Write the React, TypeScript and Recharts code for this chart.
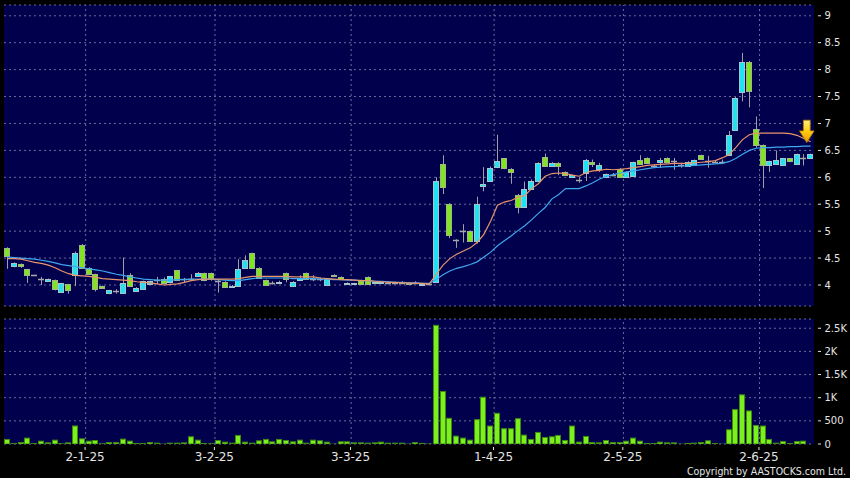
import React from "react";
import {
  ComposedChart,
  Bar,
  Line,
  XAxis,
  YAxis,
  CartesianGrid,
  ReferenceLine,
  ReferenceDot,
} from "recharts";

// ---- data ----
const opens = [
  4.68, 4.35, 4.39, 4.29, 4.18, 4.11, 4.07, 4.09, 3.86, 4.01,
  4.18, 4.74, 4.32, 4.2, 3.98, 3.84, 3.89, 3.86, 4.19, 3.9,
  3.93, 4.02, 4.1, 4.12, 4.04, 4.27, 4.12, 4.12, 4.17, 4.22,
  4.22, 4.07, 4.06, 3.97, 3.99, 4.31, 4.59, 4.32, 4.09, 4.04,
  4.04, 4.22, 3.99, 4.1, 4.22, 4.11, 4.11, 3.99, 4.19, 4.15,
  4.02, 4.02, 4.09, 4.15, 4.03, 4.03, 4.04, 4.04, 4.03, 4.03,
  4.04, 3.99, 4.02, 4.07, 6.24, 5.51, 4.84, 5.0, 5.0, 4.82,
  5.84, 5.93, 6.19, 6.35, 6.16, 5.68, 5.46, 5.79, 5.93, 6.37,
  6.22, 6.27, 6.1, 6.0, 5.95, 6.09, 6.28, 6.14, 6.01, 6.05,
  6.15, 6.01, 6.02, 6.33, 6.36, 6.21, 6.3, 6.36, 6.3, 6.22,
  6.22, 6.22, 6.41, 6.3, 6.29, 6.29, 6.41, 6.89, 7.59, 8.15,
  6.9, 6.6, 6.22, 6.24, 6.22, 6.35, 6.24, 6.35, 6.35,
];
const highs = [
  4.7, 4.42, 4.4, 4.3, 4.19, 4.15, 4.12, 4.1, 4.04, 4.02,
  4.62, 4.76, 4.33, 4.21, 3.99, 3.91, 3.92, 4.51, 4.22, 3.96,
  4.08, 4.08, 4.15, 4.14, 4.17, 4.28, 4.13, 4.2, 4.24, 4.23,
  4.23, 4.1, 4.07, 4.0, 4.48, 4.55, 4.6, 4.33, 4.1, 4.07,
  4.08, 4.23, 4.07, 4.18, 4.23, 4.18, 4.14, 4.12, 4.2, 4.16,
  4.05, 4.04, 4.1, 4.16, 4.06, 4.06, 4.07, 4.06, 4.07, 4.04,
  4.07, 4.02, 4.03, 6.0, 6.41, 5.52, 4.85, 5.13, 5.01, 5.64,
  6.19, 6.2, 6.79, 6.36, 6.17, 5.69, 5.92, 5.96, 6.28, 6.44,
  6.28, 6.28, 6.11, 6.05, 6.0, 6.34, 6.33, 6.27, 6.07, 6.08,
  6.17, 6.11, 6.29, 6.41, 6.37, 6.24, 6.36, 6.37, 6.36, 6.27,
  6.3, 6.33, 6.42, 6.4, 6.32, 6.33, 6.86, 7.49, 8.31, 8.16,
  7.13, 6.61, 6.31, 6.5, 6.36, 6.36, 6.44, 6.43, 6.44,
];
const lows = [
  4.3, 4.33, 4.32, 4.04, 4.17, 4.0, 4.06, 3.9, 3.85, 3.84,
  3.98, 4.3, 4.19, 3.88, 3.93, 3.83, 3.84, 3.85, 3.98, 3.89,
  3.92, 4.01, 4.02, 4.03, 4.03, 4.08, 4.05, 4.1, 4.15, 4.07,
  4.08, 3.86, 3.95, 3.96, 3.98, 4.3, 4.31, 4.12, 3.98, 4.01,
  4.02, 4.05, 3.98, 4.09, 4.1, 4.07, 4.07, 3.98, 4.16, 4.1,
  4.01, 4.01, 4.01, 4.01, 4.02, 4.02, 4.02, 4.02, 4.02, 4.01,
  4.02, 3.98, 4.0, 4.05, 5.69, 4.87, 4.69, 4.79, 4.8, 4.77,
  5.74, 5.92, 6.18, 6.15, 5.88, 5.33, 5.45, 5.78, 5.92, 6.2,
  6.21, 6.04, 6.03, 5.99, 5.9, 5.93, 6.19, 6.1, 6.0, 6.02,
  6.0, 6.0, 6.01, 6.25, 6.25, 6.18, 6.18, 6.28, 6.14, 6.18,
  6.21, 6.21, 6.32, 6.18, 6.27, 6.25, 6.4, 6.88, 7.41, 7.3,
  6.55, 5.8, 6.1, 6.23, 6.21, 6.28, 6.23, 6.22, 6.34,
];
const closes = [
  4.53, 4.4, 4.36, 4.17, 4.18, 4.11, 4.11, 3.92, 4.03, 3.89,
  4.59, 4.32, 4.2, 3.92, 3.94, 3.9, 3.89, 4.04, 3.99, 3.95,
  4.07, 4.07, 4.1, 4.05, 4.16, 4.09, 4.12, 4.12, 4.22, 4.09,
  4.1, 4.07, 3.97, 3.99, 4.3, 4.46, 4.32, 4.13, 3.99, 4.04,
  4.06, 4.11, 4.06, 4.13, 4.11, 4.11, 4.11, 4.11, 4.17, 4.11,
  4.04, 4.03, 4.02, 4.02, 4.05, 4.05, 4.04, 4.04, 4.03, 4.02,
  4.04, 4.01, 4.02, 5.94, 5.82, 4.94, 4.84, 5.0, 4.82, 5.51,
  5.88, 6.18, 6.31, 6.16, 6.1, 5.46, 5.79, 5.93, 6.27, 6.21,
  6.27, 6.21, 6.04, 6.04, 5.95, 6.33, 6.24, 6.22, 6.06, 6.05,
  6.01, 6.1, 6.28, 6.26, 6.26, 6.21, 6.33, 6.29, 6.3, 6.22,
  6.29, 6.32, 6.33, 6.3, 6.29, 6.29, 6.79, 7.48, 8.15, 7.61,
  6.61, 6.22, 6.3, 6.32, 6.35, 6.29, 6.43, 6.35, 6.43,
];
const volumes = [
  109, 20, 43, 138, 20, 72, 36, 94, 15, 36,
  400, 123, 72, 87, 15, 43, 43, 116, 72, 22,
  22, 43, 29, 7, 29, 29, 36, 167, 94, 22,
  15, 87, 51, 29, 196, 51, 29, 80, 109, 58,
  109, 87, 58, 94, 29, 94, 80, 51, 7, 58,
  58, 36, 36, 29, 36, 51, 29, 29, 29, 7,
  43, 22, 10, 2574, 1146, 566, 181, 138, 94, 537,
  1022, 399, 674, 341, 341, 558, 203, 109, 261, 152,
  167, 196, 87, 399, 51, 174, 43, 36, 87, 43,
  43, 72, 138, 72, 22, 22, 51, 36, 36, 7,
  22, 29, 43, 80, 22, 7, 319, 754, 1073, 725,
  413, 399, 109, 29, 65, 22, 65, 72, 0,
];
const maShort = [
  4.49, 4.49, 4.48, 4.45, 4.42, 4.4, 4.37, 4.32, 4.26, 4.21,
  4.18, 4.17, 4.16, 4.14, 4.12, 4.11, 4.1, 4.09, 4.08, 4.06,
  4.05, 4.04, 4.02, 4.0, 4.01, 4.02, 4.05, 4.08, 4.1, 4.11,
  4.11, 4.11, 4.11, 4.11, 4.12, 4.14, 4.16, 4.16, 4.16, 4.16,
  4.16, 4.16, 4.15, 4.15, 4.15, 4.15, 4.13, 4.12, 4.11, 4.1,
  4.1, 4.09, 4.08, 4.08, 4.07, 4.06, 4.05, 4.05, 4.04, 4.04,
  4.03, 4.03, 4.02, 4.2, 4.37, 4.49, 4.57, 4.63, 4.69, 4.79,
  4.94, 5.19, 5.48, 5.54, 5.57, 5.63, 5.66, 5.79, 5.88, 6.02,
  6.07, 6.08, 6.07, 6.04, 6.02, 6.09, 6.12, 6.13, 6.15, 6.14,
  6.15, 6.16, 6.18, 6.2, 6.22, 6.23, 6.24, 6.25, 6.26, 6.26,
  6.26, 6.27, 6.28, 6.29, 6.31, 6.36, 6.42, 6.55, 6.7, 6.79,
  6.82, 6.82, 6.82, 6.82, 6.82, 6.81, 6.78, 6.72, 6.66,
];
const maLong = [
  4.52, 4.51, 4.5, 4.49, 4.48, 4.46, 4.44, 4.41, 4.38, 4.36,
  4.34, 4.32, 4.3, 4.28, 4.26, 4.23, 4.2, 4.18, 4.15, 4.13,
  4.11, 4.1, 4.09, 4.09, 4.09, 4.1, 4.1, 4.11, 4.11, 4.11,
  4.11, 4.1, 4.09, 4.08, 4.08, 4.1, 4.12, 4.13, 4.13, 4.13,
  4.13, 4.13, 4.12, 4.12, 4.12, 4.12, 4.11, 4.11, 4.1, 4.1,
  4.09, 4.09, 4.08, 4.08, 4.07, 4.07, 4.06, 4.05, 4.05, 4.04,
  4.04, 4.03, 4.03, 4.1, 4.19, 4.26, 4.31, 4.34, 4.38, 4.43,
  4.52, 4.61, 4.73, 4.82, 4.91, 5.01, 5.1, 5.21, 5.33, 5.44,
  5.6, 5.68, 5.79, 5.79, 5.79, 5.84, 5.9, 5.97, 6.02, 6.05,
  6.08, 6.1, 6.12, 6.14, 6.16, 6.18, 6.19, 6.2, 6.2, 6.21,
  6.21, 6.22, 6.23, 6.24, 6.25, 6.26, 6.29, 6.35, 6.43, 6.5,
  6.54, 6.55, 6.55, 6.56, 6.56, 6.57, 6.57, 6.58, 6.58,
];

const dayIndex = opens.map((_, i) => i);
const tickDays = [12, 31, 51, 72, 91, 111];
const tickLabels = ["2-1-25", "3-2-25", "3-3-25", "1-4-25", "2-5-25", "2-6-25"];
const priceTicks = [4, 4.5, 5, 5.5, 6, 6.5, 7, 7.5, 8, 8.5, 9];
const volumeTicks = [0, 500, 1000, 1500, 2000, 2500];
const arrowDay = 117;
const arrowPrice = 6.645;

const rows = dayIndex.map((i) => ({
  day: i,
  range: [lows[i], highs[i]],
  open: opens[i],
  high: highs[i],
  low: lows[i],
  close: closes[i],
  vol: volumes[i],
  maShort: maShort[i],
  maLong: maLong[i],
}));

// ---- styles ----
const BG = "#000000";
const PLOT = "#00004d";
const GRID = "#6a6a9c";
const TEXT = "#e4e4e4";
const CYAN = "#1fe3f3";
const GREEN = "#80e41e";
const FONT = "DejaVu Sans";

const Candle = (props: any) => {
  const { x, y, width, height } = props;
  const p = props.payload || props;
  const { open, close, high, low } = p;
  if (x == null || y == null) return null;
  const span = high - low;
  const ppu = span > 0 ? height / span : 0;
  const py = (v: number) => y + (high - v) * ppu;
  const cx = Math.round(x + width / 2) + 0.5;
  const left = Math.round(x);
  const w = Math.round(width);
  const top = py(Math.max(open, close));
  const bot = py(Math.min(open, close));
  const doji = open === close;
  const up = close > open;
  return (
    <g>
      <line x1={cx} x2={cx} y1={y} y2={y + height} stroke="#a0a0a0" strokeWidth={1} />
      {doji ? (
        <line x1={left} x2={left + w} y1={Math.round(top) + 0.5} y2={Math.round(top) + 0.5} stroke="#a8a8a8" strokeWidth={1.5} />
      ) : (
        <rect
          x={left + 0.5}
          y={Math.round(top) + 0.5}
          width={w - 1}
          height={Math.max(Math.round(bot - top), 1)}
          fill={up ? CYAN : GREEN}
          stroke={up ? "#a6c4cc" : "#a2b48c"}
          strokeWidth={1}
        />
      )}
    </g>
  );
};

const VolBar = (props: any) => {
  const { x, y, width, height } = props;
  if (!height || height <= 0) return null;
  return (
    <rect x={Math.round(x) + 0.5} y={y + 0.5} width={Math.round(width) - 1} height={Math.max(height - 0.5, 0.5)} fill="#7cf01c" stroke="#3e8a10" strokeWidth={1} />
  );
};

const fmtPrice = (v: number) => String(v);
const fmtVol = (v: number) => (v >= 1000 ? `${v / 1000}K` : String(v));

const RightTick = (fmt: (v: number) => string) => (props: any) => {
  const { x, y, payload } = props;
  return (
    <g>
      <line x1={x + 4} x2={x + 7} y1={y} y2={y} stroke={TEXT} strokeWidth={1} />
      <text x={x + 10.5} y={y} dy="0.36em" fill={TEXT} fontSize={10} fontFamily={FONT} textAnchor="start">
        {fmt(payload.value)}
      </text>
    </g>
  );
};

const DateTick = (props: any) => {
  const { x, y, payload } = props;
  const k = tickDays.indexOf(payload.value);
  if (k < 0) return null;
  const tx = x - 4;
  return (
    <g>
      <line x1={tx} x2={tx} y1={y + 3} y2={y + 6} stroke={TEXT} strokeWidth={1} />
      <text x={tx} y={y + 17} fill={TEXT} fontSize={12} fontFamily={FONT} textAnchor="middle">
        {tickLabels[k]}
      </text>
    </g>
  );
};

const Arrow = (props: any) => {
  const { cx, cy } = props;
  if (cx == null || cy == null) return null;
  const x = cx + 3;
  const d = `M${x - 3.4},${cy - 22.4} h6.8 v10.7 h3.9 L${x},${cy} L${x - 7.3},${cy - 11.7} h3.9 Z`;
  return (
    <g>
      <defs>
        <linearGradient id="arrowGrad" x1="0" y1="0" x2="0" y2="1">
          <stop offset="0" stopColor="#fff07a" />
          <stop offset="0.5" stopColor="#ffcc10" />
          <stop offset="1" stopColor="#e89800" />
        </linearGradient>
      </defs>
      <path d={d} fill="url(#arrowGrad)" stroke="#b87a00" strokeWidth={0.8} />
    </g>
  );
};

export default function App() {
  return (
    <div style={{ position: "absolute", left: 0, top: 0, width: 850, height: 478, background: BG, overflow: "hidden" }}>
      <div style={{ position: "absolute", left: 0, top: 0 }}>
        <ComposedChart width={850} height={310} data={rows} margin={{ top: 5, right: 0, bottom: 4, left: 4 }}>
          <CartesianGrid vertical={false} stroke={GRID} strokeDasharray="2 3" fill={PLOT} fillOpacity={1} />
          <XAxis dataKey="day" type="category" hide />
          <YAxis
            orientation="right"
            type="number"
            domain={[3.61, 9.2]}
            ticks={priceTicks}
            allowDataOverflow
            width={36}
            tickLine={false}
            axisLine={false}
            tickSize={0}
            tickMargin={0}
            interval={0}
            tick={RightTick(fmtPrice)}
          />
          {tickDays.map((d) => (
            <ReferenceLine key={d} x={d} position="start" stroke={GRID} strokeDasharray="2 3" />
          ))}
          <Line dataKey="maLong" type="linear" stroke="#3fa6f0" strokeWidth={1.2} dot={false} activeDot={false} isAnimationActive={false} />
          <Line dataKey="maShort" type="linear" stroke="#e8946c" strokeWidth={1.2} dot={false} activeDot={false} isAnimationActive={false} />
          <Bar dataKey="range" barSize={6} shape={<Candle />} isAnimationActive={false} />
          <ReferenceDot x={arrowDay} y={arrowPrice} shape={<Arrow />} ifOverflow="visible" />
        </ComposedChart>
      </div>
      <div style={{ position: "absolute", left: 0, top: 310 }}>
        <ComposedChart width={850} height={168} data={rows} margin={{ top: 9, right: 0, bottom: 0, left: 4 }}>
          <CartesianGrid vertical={false} stroke={GRID} strokeDasharray="2 3" fill={PLOT} fillOpacity={1} />
          <XAxis
            dataKey="day"
            type="category"
            height={34}
            ticks={tickDays}
            interval={0}
            tickLine={false}
            axisLine={false}
            tickSize={0}
            tickMargin={0}
            tick={<DateTick />}
          />
          <YAxis
            orientation="right"
            type="number"
            domain={[0, 2700]}
            ticks={volumeTicks}
            allowDataOverflow
            width={36}
            tickLine={false}
            axisLine={false}
            tickSize={0}
            tickMargin={0}
            interval={0}
            tick={RightTick(fmtVol)}
          />
          {tickDays.map((d) => (
            <ReferenceLine key={d} x={d} position="start" stroke={GRID} strokeDasharray="2 3" />
          ))}
          <Bar dataKey="vol" barSize={7} shape={<VolBar />} isAnimationActive={false} />
        </ComposedChart>
      </div>
      <svg width={850} height={478} style={{ position: "absolute", left: 0, top: 0, pointerEvents: "none" }}>
        <text x={846} y={474.5} textAnchor="end" fill={TEXT} fontSize={10.5} fontFamily="'DejaVu Sans Condensed', 'DejaVu Sans'" fontStretch="condensed">
          Copyright by AASTOCKS.com Ltd.
        </text>
      </svg>
    </div>
  );
}
